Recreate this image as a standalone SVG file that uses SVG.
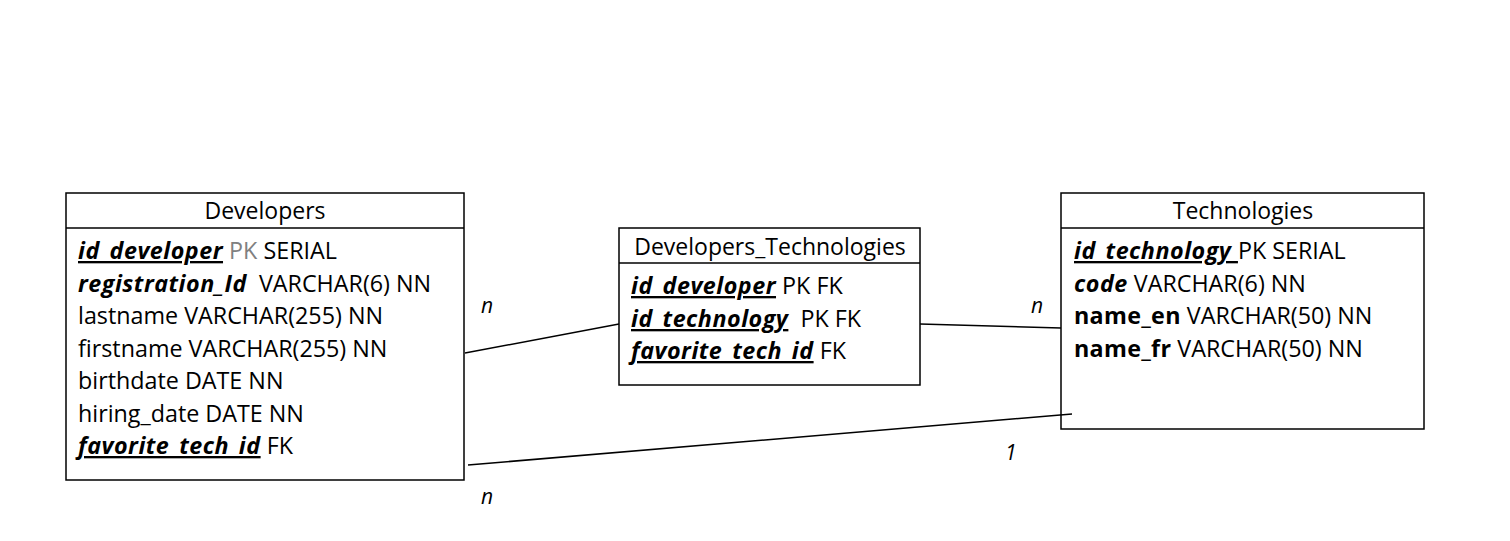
<svg xmlns="http://www.w3.org/2000/svg" width="1510" height="541" viewBox="0 0 1510 541">
<style>
text{font-family:"Open Sans","Noto Sans","Liberation Sans",sans-serif;font-size:23.3px;fill:#000;white-space:pre}
.box{fill:#fff;stroke:#000;stroke-width:1.5}
.hdr{stroke:#000;stroke-width:1.5}
.t{text-anchor:middle;font-size:23px}
.k{font-weight:bold;font-style:italic;text-decoration:underline;letter-spacing:0.5px}
.bi{font-weight:bold;font-style:italic;letter-spacing:0.5px}
.b{font-weight:bold;letter-spacing:0.3px}
.g{fill:#808080}
.lbl{font-style:italic;font-size:21px}
.c{stroke:#000;stroke-width:1.5;fill:none}
</style>
<rect width="1510" height="541" fill="#fff"/>
<g id="developers">
<rect class="box" x="66" y="193" width="398" height="287"/>
<line class="hdr" x1="66" y1="228" x2="464" y2="228"/>
<text class="t" x="265" y="219">Developers</text>
<text x="78" y="259"><tspan class="k">id_developer</tspan><tspan class="g"> PK</tspan> SERIAL</text>
<text x="78" y="292" xml:space="preserve"><tspan class="bi">registration_Id</tspan>  VARCHAR(6) NN</text>
<text x="78" y="324">lastname VARCHAR(255) NN</text>
<text x="78" y="357">firstname VARCHAR(255) NN</text>
<text x="78" y="389">birthdate DATE NN</text>
<text x="78" y="422">hiring_date DATE NN</text>
<text x="78" y="454"><tspan class="k">favorite_tech_id</tspan> FK</text>
</g>
<g id="developers_technologies">
<rect class="box" x="619" y="228" width="301" height="157"/>
<line class="hdr" x1="619" y1="263" x2="920" y2="263"/>
<text class="t" x="770" y="255">Developers_Technologies</text>
<text x="631" y="294"><tspan class="k">id_developer</tspan> PK FK</text>
<text x="631" y="327" xml:space="preserve"><tspan class="k">id_technology</tspan>  PK FK</text>
<text x="631" y="359"><tspan class="k">favorite_tech_id</tspan> FK</text>
</g>
<g id="technologies">
<rect class="box" x="1061" y="193" width="363" height="236"/>
<line class="hdr" x1="1061" y1="228" x2="1424" y2="228"/>
<text class="t" x="1243" y="219">Technologies</text>
<text x="1074" y="259" xml:space="preserve"><tspan class="k">id_technology </tspan>PK SERIAL</text>
<text x="1074" y="292"><tspan class="bi">code</tspan> VARCHAR(6) NN</text>
<text x="1074" y="324"><tspan class="b">name_en</tspan> VARCHAR(50) NN</text>
<text x="1074" y="357"><tspan class="b">name_fr</tspan> VARCHAR(50) NN</text>
</g>
<g id="connectors">
<line class="c" x1="465" y1="353" x2="619" y2="324"/>
<line class="c" x1="920" y1="324" x2="1061" y2="328"/>
<line class="c" x1="468" y1="465" x2="1072" y2="414"/>
<text class="lbl" x="481" y="313">n</text>
<text class="lbl" x="1031" y="313">n</text>
<text class="lbl" x="1005" y="460">1</text>
<text class="lbl" x="481" y="504">n</text>
</g>
</svg>
